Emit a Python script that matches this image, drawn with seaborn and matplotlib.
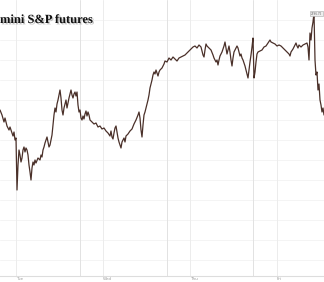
import matplotlib
matplotlib.use("Agg")
import matplotlib.pyplot as plt
import matplotlib.patheffects as pe
import seaborn as sns
import pandas as pd

# bar index (equally spaced intraday bars) and price
bars = [0,2,4,5,7,9,10,12,13,14,15,16,17,18,19,20,21,22,23,24,25,26,27,28,29,30,31,32,33,34,35,36,38,40,41,42,43,44,45,46,47,48,49,50,
        51,52,53,54,55,56,57,58,59,60,61,62,63,64,65,66,67,68,69,70,71,72,73,74,75,76,77,78,79,80,81,82,83,84,85,86,87,88,89,90,92,94,96,98,100,
        102,104,106,108,110,111,112,113,114,115,116,117,118,119,120,121,122,123,124,125,126,128,130,132,134,136,138,139,140,141,142,143,144,145,
        146,147,148,149,150,151,152,153,154,155,156,157,158,159,160,162,164,165,167,169,171,173,175,177,179,181,183,185,187,189,191,193,195,197,
        199,201,202,203,204,205,206,207,209,211,213,214,216,217,218,219,220,222,224,225,226,227,228,229,230,231,232,233,234,235,236,237,238,239,
        240,241,242,243,244,245,246,247,248,249,250,251,252,253,254,255,256,257,258,260,262,264,266,268,270,271,273,275,277,279,281,283,285,287,
        289,290,291,293,295,296,297,298,299,301,303,305,307,308,309,310,311,312,313,314,315,316,317,318,319,320,321,322,323,324]
prices = [2772.5,2771.25,2769.5,2770.5,2768.5,2767.5,2768.25,2766.75,2766,2767,2765,2765.5,2752.5,2758.75,2762.5,2761.25,2759.5,2760.5,
          2762.5,2763.25,2762,2763,2762.5,2761.25,2758.75,2757,2755,2758,2759.5,2758.75,2760,2759.25,2760.5,2760,2761.25,2760.75,2762.5,
          2763.25,2764.25,2765,2765.75,2764.5,2763.25,2763.75,
          2765,2766.25,2768.75,2771.25,2773,2772,2774,2775,2776.25,2777.5,2775.5,2772.5,2771.25,2773,2774,2775,2773,2774.25,2775.5,2776.5,
          2777.5,2776.25,2775.5,2776.5,2777,2776,2777,2773.75,2772,2772.5,2770.5,2770,2771,2770.25,2771.5,2772.25,2771,2772,2771.25,2770,
          2769.5,2769,2769.25,2768.25,2768.5,
          2767.75,2768,2767.25,2766.75,2766,2767.25,2765.75,2765.25,2766.75,2768,2768.5,2767,2765.5,2764.5,2763.75,2763,2764.5,2765,2765.5,
          2764.5,2766,2766.5,2767.25,2767.75,2769,2770,2771.25,2772,2770.5,2767.5,2765.75,2768.75,2771.25,2772,
          2773,2774,2775,2776.25,2778,2779,2780,2781.25,2782,2781.5,2782.5,2781.75,2781,2782,2782.5,2783,2784,2784.75,2784.5,2785.5,2785,
          2785.75,2785.25,2784.75,2785.5,2785.75,2786,2786.25,2786.75,2787.25,2787.75,2788.25,2788.5,2788,
          2788.75,2788.25,2787.25,2786.25,2785.75,2787.5,2789,2788.5,2788,2787.5,2786.25,2785.5,2784.5,2785,2783.75,2785,2786,2787,2788.5,
          2789.5,2788,2786.5,2787.5,2788.5,2787,2785,2783.5,2785.5,2787,2787.5,2788,2788.5,2788,2787,
          2786,2786.5,2785.5,2785,2784.25,2783.5,2782.5,2781.5,2780.5,2782.5,2784.5,2786.25,2788.25,2790.5,2780.5,2782,2784.5,2786.5,2787,
          2787.25,2787.5,2788.25,2788.5,2789.25,2790,2789.5,2789.25,2789,2788.5,2788.75,2788.5,2788,2787.5,2787,
          2786.5,2786,2787,2787.75,2788.75,2789.25,2788.5,2788,2788.75,2788.25,2788.75,2789,2789.25,2788.25,2785,2791.75,2790,2793,2794.5,
          2796.75,2785,2781.25,2782,2777.5,2779,2775,2773.75,2772,2773,2771.25]

day_labels = ["Tue", "Wed", "Thu", "Fri"]
day_start_bars = [16, 103, 190, 277]
session_break_bars = [80, 167, 253]
last_high_label = "2796.75"

df = pd.DataFrame({"bar": bars, "price": prices})

sns.set_style("white")
plt.rcParams["font.family"] = ["DejaVu Sans"]

fig = plt.figure(figsize=(3.24, 2.82), dpi=100)
ax = fig.add_axes([0, 6 / 282, 1, 276 / 282])

# horizontal faint grid
for yv in range(2735, 2800, 5):
    ax.axhline(yv, color="#f2f2f2", lw=0.6, zorder=0)
for xb in day_start_bars:
    ax.axvline(xb, color="#ececec", lw=0.7, zorder=0)
for xb in session_break_bars:
    ax.axvline(xb, color="#e2e2e2", lw=0.7, zorder=0)

sns.lineplot(data=df, x="bar", y="price", ax=ax, color="#4a3029", lw=0.9, zorder=3)

ax.set_xlim(0, 324)
ax.set_ylim(2731, 2800)
ax.set_xticks(day_start_bars)
ax.set_xticklabels(day_labels, fontsize=3, color="#999999", ha="left")
ax.tick_params(axis="x", length=0, pad=0.5)
ax.set_yticks([])
ax.set_xlabel("")
ax.set_ylabel("")
for s in ["top", "left", "right"]:
    ax.spines[s].set_visible(False)
ax.spines["bottom"].set_color("#dddddd")
ax.spines["bottom"].set_linewidth(0.8)

# label of the high
ax.text(322.5, 2796.6, last_high_label, fontsize=2.0, color="#666666", ha="right", va="center",
        bbox=dict(boxstyle="square,pad=0.3", fc="#eeeeee", ec="#aaaaaa", lw=0.4), zorder=5)

fig.text(0.0, 1 - 20 / 282, "mini S&P futures", family="Liberation Serif", weight="bold",
         fontsize=9, color="#111111", va="center", ha="left",
         path_effects=[pe.SimplePatchShadow(offset=(1, -1), shadow_rgbFace="#888888", alpha=0.5), pe.Normal()])

fig.savefig("out.png", dpi=100)
